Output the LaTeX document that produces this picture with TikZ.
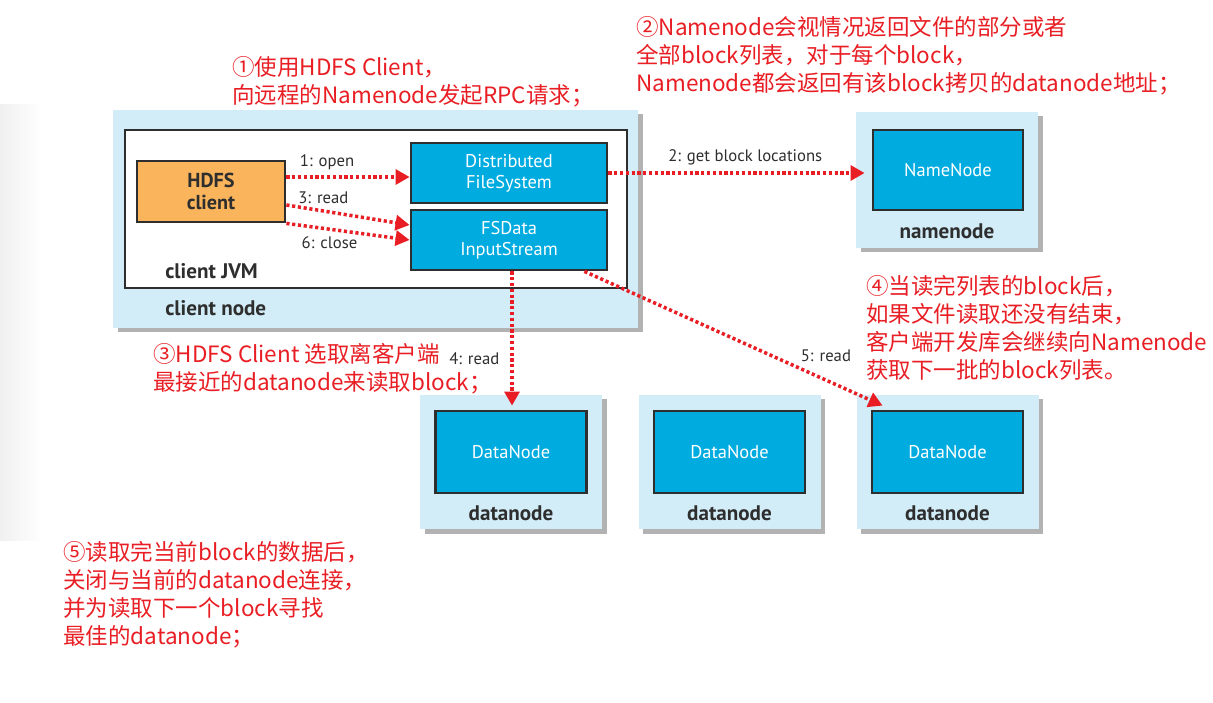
\documentclass[tikz,border=0pt]{standalone}
\usepackage{fontspec}
\setmainfont{PT Sans}
\newfontfamily\cjk{Noto Sans CJK SC}
\usepackage{tikz}
\usetikzlibrary{arrows.meta,calc,positioning,shadows}
\definecolor{my_light}{RGB}{210, 237, 248}
\definecolor{my_blue}{RGB}{0, 171, 223}
\definecolor{my_orange}{RGB}{249, 180, 92}
\definecolor{my_dark}{RGB}{46, 46, 46}
\definecolor{my_red}{RGB}{232, 30, 36}
\tikzset{
  sz/.style 2 args = {minimum width=#1*0.2mm, minimum height=#2*0.2mm, inner sep=0pt},
  hostbox/.style = {fill=my_light, draw=none, drop shadow={shadow xshift=0.9mm, shadow yshift=-0.9mm, fill=black, opacity=0.3}},
  procbox/.style = {fill=white, draw=my_dark, line width=1.6pt},
  compbox/.style = {fill=my_blue, draw=my_dark, line width=1.6pt, text=white, align=center,
  font=\fontsize{10.5}{12}\selectfont},
  clientbox/.style = {fill=my_orange, draw=my_dark, line width=1.6pt, text=my_dark, align=center,
  font=\bfseries\fontsize{11.5}{12.5}\selectfont},
  hostlabel/.style = {text=my_dark, inner sep=0pt, font=\bfseries\fontsize{12}{14}\selectfont},
  note/.style = {text=my_red, align=left, anchor=north west, inner sep=0pt,
  font=\cjk\fontsize{12.8}{16}\selectfont}
}

\begin{document}
\begin{tikzpicture}[x=0.2mm, y=-0.2mm, >={Triangle[length=8pt,width=8.5pt]},
        msg/.style={->, draw=my_red, line width=2pt, dash pattern=on 1.8pt off 1.5pt},
        msglabel/.style={text=my_dark, font=\fontsize{9.5}{11}\selectfont}]
  \useasboundingbox (0,0) rectangle (1213,703);
  \shade[left color=black!6, right color=white] (0,105) rectangle (42,540);

  % client side
  \node[hostbox, sz={525}{218}] (cnode) at (375.5,219) {};
  \node[procbox, sz={502}{158}] (jvm) at (376,209) {};
  \node[clientbox, sz={148}{61}] (client) at (211,191.5) {HDFS\\client};
  \node[compbox, sz={196}{60}] (dfs) at (509,173) {Distributed\\FileSystem};
  \node[compbox, sz={196}{60}] (fsin) at (509,240) {FSData\\InputStream};
  \node[hostlabel, anchor=west] (jvmlbl) at (165,271) {client JVM};
  \node[hostlabel, anchor=west] (cnodelbl) at (165,308) {client node};

  % namenode
  \node[hostbox, sz={182}{136}] (nnhost) at (947,180) {};
  \node[compbox, sz={150}{80}] (nn) at (948,170) {NameNode};
  \node[hostlabel] (nnlbl) at (947,231) {namenode};

  % datanodes
  \foreach \i/\x in {1/511, 2/729.5, 3/947.5} {
    \node[hostbox, sz={182}{134}] (dnhost\i) at (\x,462) {};
    \node[compbox, sz={151}{82}] (dn\i) at (\x,452) {DataNode};
    \node[hostlabel] (dnlbl\i) at (\x,513) {datanode};
  }

  % calls
  \coordinate (c1) at ($(client.east)+(0,-14.5)$);
  \coordinate (c3) at ($(client.east)+(0,13.5)$);
  \coordinate (f3) at ($(fsin.west)+(0,-15)$);
  \coordinate (r4) at ($(fsin.south)+(3,0)$);
  \coordinate (r5) at ($(fsin.south east)+(-24,0)$);
  \coordinate (d5) at ($(dn3.north west)+(12,-4)$);
  \draw[msg] (c1) -- node[msglabel, above, pos=0.33] {1: open} (c1 -| dfs.west);
  \draw[msg] (c3) -- node[msglabel, above, pos=0.3] {3: read} (f3);
  \draw[msg] (client.south east) -- node[msglabel, below, pos=0.35] {6: close} (fsin.west);
  \draw[msg, shorten >=1.4mm] (dfs.east) -- node[msglabel, above, pos=0.52] {2: get block locations} (dfs.east -| nn.west);
  \draw[msg, shorten >=0.8mm] (r4) -- node[msglabel, left=1mm, pos=0.63] {4: read} (r4 |- dn1.north);
  \draw[msg] (r5) -- node[msglabel, above=2.2mm, pos=0.81] {5: read} (d5);

  % notes
  \node[note] (n1) at (232,56) {①使用HDFS Client，\\向远程的Namenode发起RPC请求；};
  \node[note] (n2) at (636,16) {②Namenode会视情况返回文件的部分或者\\全部block列表，对于每个block，\\Namenode都会返回有该block拷贝的datanode地址；};
  \node[note] (n3) at (153,343) {③HDFS Client 选取离客户端\\最接近的datanode来读取block；};
  \node[note] (n4) at (866,275) {④当读完列表的block后，\\如果文件读取还没有结束，\\客户端开发库会继续向Namenode\\获取下一批的block列表。};
  \node[note] (n5) at (63,541) {⑤读取完当前block的数据后，\\关闭与当前的datanode连接，\\并为读取下一个block寻找\\最佳的datanode；};
\end{tikzpicture}
\end{document}
